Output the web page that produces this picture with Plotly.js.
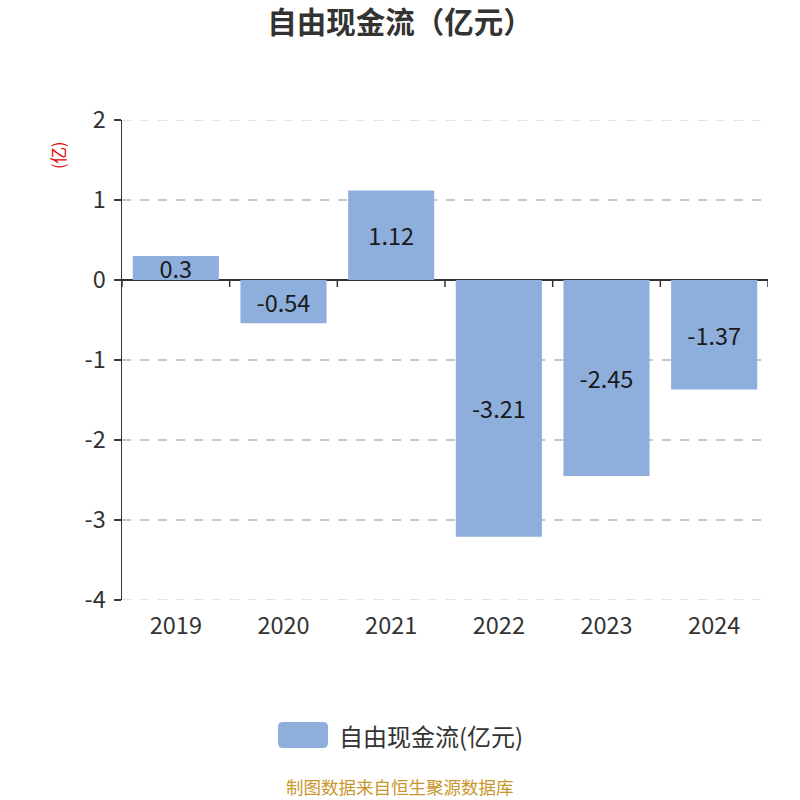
<!DOCTYPE html>
<html>
<head>
<meta charset="utf-8">
<script src="https://cdn.plot.ly/plotly-3.0.1.min.js"></script>
<style>html,body{margin:0;padding:0;background:#fff;}#chart{width:800px;height:800px;}</style>
</head>
<body>
<div id="chart"></div>
<script>
const categories = ['2019', '2020', '2021', '2022', '2023', '2024'];
const values = [0.3, -0.54, 1.12, -3.21, -2.45, -1.37];
const yTickVals = [2, 1, 0, -1, -2, -3, -4];
const yTickText = ['2', '1', '0', '-1', '-2', '-3', '-4'];
const seriesName = '自由现金流(亿元)';
const chartTitle = '自由现金流（亿元）';
const unitLabel = '(亿)';
const footer = '制图数据来自恒生聚源数据库';

const FONT = '"Microsoft YaHei", "Noto Sans CJK SC", sans-serif';
const barColor = '#8eaedb';

const trace = {
  type: 'bar',
  x: categories,
  y: values,
  name: seriesName,
  marker: {color: barColor},
  width: 0.8,
  text: values.map(v => String(v)),
  textposition: 'inside',
  insidetextanchor: 'middle',
  textangle: 0,
  constraintext: 'none',
  textfont: {family: FONT, size: 23.5, color: '#1a1a1a'},
  hoverinfo: 'x+y',
  showlegend: false,
  cliponaxis: false
};

const shapes = [];
// gridlines at the range ends (Plotly omits them)
[yTickVals[0], yTickVals[yTickVals.length - 1]].forEach(v => {
  shapes.push({
    type: 'line', xref: 'paper', yref: 'y', layer: 'below',
    x0: 0, x1: 1, y0: v, y1: v,
    line: {color: '#c8c8c8', width: 1.2, dash: 'dash'}
  });
});
// category boundary ticks on the zero line
for (let i = 0; i <= categories.length; i++) {
  shapes.push({
    type: 'line', xref: 'x', yref: 'y',
    x0: i - 0.5, x1: i - 0.5,
    ysizemode: 'pixel', yanchor: 0, y0: 0, y1: -7,
    line: {color: '#333', width: 1.5}
  });
}
// legend swatch (rounded)
const r = 5, w = 25, h = 13;
shapes.push({
  type: 'path', xref: 'paper', yref: 'paper',
  xsizemode: 'pixel', ysizemode: 'pixel',
  xanchor: (303 - 122) / 646, yanchor: (600 - 735) / 480,
  path: `M${-w + r},${-h} L${w - r},${-h} Q${w},${-h} ${w},${-h + r} L${w},${h - r} Q${w},${h} ${w - r},${h} L${-w + r},${h} Q${-w},${h} ${-w},${h - r} L${-w},${-h + r} Q${-w},${-h} ${-w + r},${-h} Z`,
  fillcolor: barColor, line: {width: 0}
});

const layout = {
  width: 800, height: 800,
  margin: {l: 122, r: 32, t: 120, b: 200},
  paper_bgcolor: '#fff', plot_bgcolor: '#fff',
  font: {family: FONT, color: '#333'},
  title: {
    text: '<b>' + chartTitle + '</b>',
    font: {family: FONT, size: 29.5, color: '#333'},
    x: 0.5, xanchor: 'center', xref: 'container',
    y: 1 - 23 / 800, yanchor: 'middle', yref: 'container'
  },
  bargap: 0.2,
  xaxis: {
    type: 'category',
    range: [-0.5, 5.5],
    showline: false, showgrid: false, zeroline: false,
    ticks: '', tickfont: {family: FONT, size: 23.5, color: '#333'},
    ticklabelstandoff: 9
  },
  yaxis: {
    range: [-4, 2],
    tickvals: yTickVals, ticktext: yTickText,
    tickfont: {family: FONT, size: 23.5, color: '#333'},
    showline: true, linecolor: '#333', linewidth: 1.5,
    ticks: 'outside', ticklen: 7, tickcolor: '#333', tickwidth: 1.5,
    showgrid: true, gridcolor: '#c8c8c8', griddash: 'dash', gridwidth: 1.2,
    zeroline: true, zerolinecolor: '#333', zerolinewidth: 1.5,
    ticklabelstandoff: 3
  },
  shapes: shapes,
  annotations: [
    {
      text: unitLabel, xref: 'paper', yref: 'paper',
      x: (58 - 122) / 646, y: (600 - 155) / 480,
      xanchor: 'center', yanchor: 'middle', textangle: -90,
      showarrow: false, font: {family: FONT, size: 16.5, color: '#e60000'}
    },
    {
      text: seriesName, xref: 'paper', yref: 'paper',
      x: (337 - 122) / 646, y: (600 - 735) / 480,
      xanchor: 'left', yanchor: 'middle',
      showarrow: false, font: {family: FONT, size: 24, color: '#333'}
    },
    {
      text: footer, xref: 'paper', yref: 'paper',
      x: (400 - 122) / 646, y: (600 - 786) / 480,
      xanchor: 'center', yanchor: 'middle',
      showarrow: false, font: {family: FONT, size: 17.5, color: '#c8962a'}
    }
  ]
};

Plotly.newPlot('chart', [trace], layout, {displayModeBar: false, staticPlot: true});
</script>
</body>
</html>
